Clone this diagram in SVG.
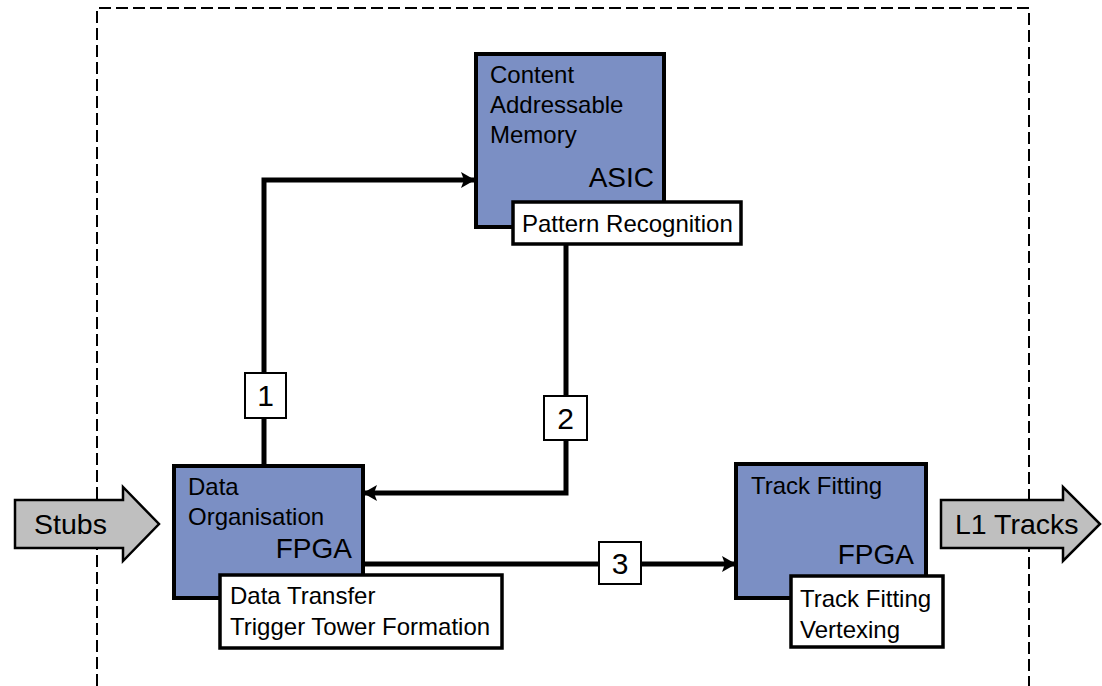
<svg xmlns="http://www.w3.org/2000/svg" width="1102" height="686" viewBox="0 0 1102 686">
  <defs>
    <marker id="ah" markerUnits="userSpaceOnUse" markerWidth="14" markerHeight="16" refX="13" refY="8" orient="auto">
      <path d="M0,0 L14,8 L0,16 L3,8 Z" fill="#000"/>
    </marker>
  </defs>
  <style>
    text { font-family: "Liberation Sans", Arial, sans-serif; fill: #000; }
    .blk { fill: #7b8fc4; stroke: #000; stroke-width: 4; }
    .sub { fill: #fff; stroke: #000; stroke-width: 3.5; }
    .lbl { fill: #fff; stroke: #000; stroke-width: 2; }
    .big { fill: #bfbfbf; stroke: #000; stroke-width: 2.5; stroke-linejoin: miter; }
    .conn { fill: none; stroke: #000; stroke-width: 5; }
    .t20 { font-size: 24px; }
    .t26 { font-size: 28px; }
    .num { font-size: 30px; }
    .t24 { font-size: 28.5px; }
  </style>
  <rect x="0" y="0" width="1102" height="686" fill="#fff"/>
  <path d="M97,686 L97,8 L1029,8 L1029,686" fill="none" stroke="#000" stroke-width="2" stroke-dasharray="12,5"/>

  <g id="connectors">
    <path class="conn" d="M264,465 L264,180 L474,180" marker-end="url(#ah)"/>
    <path class="conn" d="M566,244 L566,493 L364,493" marker-end="url(#ah)"/>
    <path class="conn" d="M363,564 L735,564" marker-end="url(#ah)"/>
    <g id="label1"><rect class="lbl" x="245" y="373" width="41" height="45"/><text class="num" x="265.5" y="406" text-anchor="middle">1</text></g>
    <g id="label2"><rect class="lbl" x="544" y="396" width="43" height="44"/><text class="num" x="565.5" y="429" text-anchor="middle">2</text></g>
    <g id="label3"><rect class="lbl" x="599" y="542" width="42" height="42"/><text class="num" x="620" y="574" text-anchor="middle">3</text></g>
  </g>

  <g id="stubs">
    <path class="big" d="M15,500 L123,500 L123,487 L159,524 L123,561 L123,548 L15,548 Z"/>
    <text class="t24" x="34" y="534">Stubs</text>
  </g>

  <g id="l1tracks">
    <path class="big" d="M941,500 L1063,500 L1063,487 L1100,524 L1063,561 L1063,548 L941,548 Z"/>
    <text class="t24" x="955" y="534">L1 Tracks</text>
  </g>

  <g id="cam">
    <rect class="blk" x="476" y="54" width="188" height="173"/>
    <text class="t20" x="490" y="83">Content</text>
    <text class="t20" x="490" y="113">Addressable</text>
    <text class="t20" x="490" y="143">Memory</text>
    <text class="t26" x="654" y="187" text-anchor="end">ASIC</text>
  </g>
  <g id="pattern">
    <rect class="sub" x="513" y="202" width="228" height="42"/>
    <text class="t20" x="522" y="232">Pattern Recognition</text>
  </g>

  <g id="dataorg">
    <rect class="blk" x="174" y="466" width="189" height="132"/>
    <text class="t20" x="188" y="495">Data</text>
    <text class="t20" x="188" y="525">Organisation</text>
    <text class="t26" x="352" y="558" text-anchor="end">FPGA</text>
  </g>
  <g id="datatransfer">
    <rect class="sub" x="220" y="575" width="282" height="73"/>
    <text class="t20" x="230" y="604">Data Transfer</text>
    <text class="t20" x="230" y="635">Trigger Tower Formation</text>
  </g>

  <g id="trackfit">
    <rect class="blk" x="736" y="464" width="190" height="134"/>
    <text class="t20" x="751" y="494">Track Fitting</text>
    <text class="t26" x="914" y="564" text-anchor="end">FPGA</text>
  </g>
  <g id="trackfitsub">
    <rect class="sub" x="791" y="576" width="152" height="71"/>
    <text class="t20" x="800" y="607">Track Fitting</text>
    <text class="t20" x="800" y="638">Vertexing</text>
  </g>
</svg>
